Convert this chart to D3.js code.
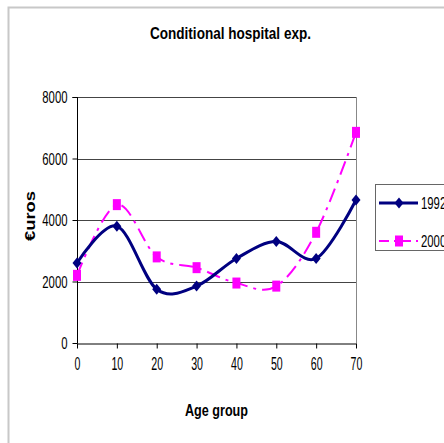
<!DOCTYPE html>
<html><head><meta charset="utf-8">
<script src="https://cdn.jsdelivr.net/npm/d3@7/dist/d3.min.js"></script>
<style>body{margin:0;background:#fff;}svg{display:block;}</style>
</head><body>
<svg id="c" width="444" height="443"></svg>
<script>
const ages = [0, 10, 20, 30, 40, 50, 60, 70];
const values1992 = [2600, 3800, 1750, 1850, 2750, 3300, 2750, 4650];
const values2000 = [2200, 4500, 2800, 2450, 1950, 1850, 3600, 6850];
const yTicks = [0, 2000, 4000, 6000, 8000];
const seriesNames = ["1992", "2000"];

const FONT = "'Liberation Sans', Arial, sans-serif";
const svg = d3.select("#c");
const L = 77, R = 356, T = 97, B = 343;
const x = d3.scaleLinear().domain([0, 70]).range([L, R]);
const y = d3.scaleLinear().domain([0, 8000]).range([B, T]);

// condensed text helper: width per character
function squeeze(sel, perChar) {
  sel.attr("lengthAdjust", "spacingAndGlyphs")
     .attr("textLength", function() { return this.textContent.length * perChar; });
}

// outer frame
svg.append("path").attr("d", `M8.5,445 V7.5 H450`).attr("fill", "none").attr("stroke", "#c8c8c8").attr("stroke-width", 2);

// title
svg.append("text").attr("x", 230.5).attr("y", 39).attr("text-anchor", "middle")
  .attr("font-family", FONT).attr("font-weight", "bold").attr("font-size", 17)
  .attr("textLength", 161).attr("lengthAdjust", "spacingAndGlyphs").text("Conditional hospital exp.");

// gridlines
svg.append("g").selectAll("line").data(yTicks.filter(d => d > 0)).join("line")
  .attr("x1", L).attr("x2", R).attr("y1", d => Math.round(y(d)) + 0.5).attr("y2", d => Math.round(y(d)) + 0.5)
  .attr("stroke", "#444").attr("stroke-width", 1);
// right border
svg.append("line").attr("x1", R + 0.5).attr("x2", R + 0.5).attr("y1", T).attr("y2", B).attr("stroke", "#888");

// y axis
const yAxis = d3.axisLeft(y).tickValues(yTicks).tickSize(5).tickPadding(5).tickFormat(d3.format("d"));
const gy = svg.append("g").attr("transform", `translate(${L + 0.5},0)`).call(yAxis);
gy.select(".domain").attr("stroke", "#000").attr("d", `M-5,${Math.round(y(8000))+0.5}H0V${Math.round(y(0))+0.5}`);
gy.selectAll("text").attr("font-family", FONT).attr("font-size", 16).attr("fill", "#000").attr("dy", "0.36em").call(squeeze, 6.3);

// x axis
const xAxis = d3.axisBottom(x).tickValues(ages).tickSize(5).tickPadding(8).tickSizeOuter(0);
const gx = svg.append("g").attr("transform", `translate(0,${B + 0.5})`).call(xAxis);
gx.select(".domain").attr("stroke", "#000");
gx.selectAll("text").attr("font-family", FONT).attr("font-size", 19).attr("fill", "#000").call(squeeze, 5.9);

// axis titles
svg.append("text").attr("x", 216.5).attr("y", 416).attr("text-anchor", "middle")
  .attr("font-family", FONT).attr("font-weight", "bold").attr("font-size", 16)
  .attr("textLength", 63).attr("lengthAdjust", "spacingAndGlyphs").text("Age group");
svg.append("text").attr("transform", "translate(35,216) rotate(-90)").attr("text-anchor", "middle")
  .attr("font-family", FONT).attr("font-weight", "bold").attr("font-size", 15)
  .attr("textLength", 50).attr("lengthAdjust", "spacingAndGlyphs").text("€uros");

const line = d3.line().x(d => x(d[0])).y(d => y(d[1])).curve(d3.curveCatmullRom.alpha(0));
const d1992 = ages.map((a, i) => [a, values1992[i]]);
const d2000 = ages.map((a, i) => [a, values2000[i]]);

const NAVY = "#000080", MAG = "#ff00ff", DASH = "14,6,3,6";

svg.append("path").datum(d2000).attr("d", line).attr("fill", "none").attr("stroke", MAG)
  .attr("stroke-width", 2).attr("stroke-dasharray", DASH);
svg.append("path").datum(d1992).attr("d", line).attr("fill", "none").attr("stroke", NAVY).attr("stroke-width", 3);

const diamond = "M0,-5.5L4.5,0L0,5.5L-4.5,0Z";
svg.append("g").selectAll("path").data(d1992).join("path")
  .attr("transform", d => `translate(${x(d[0])},${y(d[1])})`).attr("d", diamond).attr("fill", NAVY);
svg.append("g").selectAll("rect").data(d2000).join("rect")
  .attr("x", d => x(d[0]) - 4).attr("y", d => y(d[1]) - 5.5).attr("width", 8).attr("height", 11).attr("fill", MAG);

// legend
const lg = svg.append("g");
lg.append("rect").attr("x", 375.5).attr("y", 184.5).attr("width", 80).attr("height", 66)
  .attr("fill", "#fff").attr("stroke", "#666");
const ly = [203, 241];
lg.append("line").attr("x1", 379).attr("x2", 418).attr("y1", ly[0]).attr("y2", ly[0]).attr("stroke", NAVY).attr("stroke-width", 3);
lg.append("path").attr("d", diamond).attr("transform", `translate(399,${ly[0]})`).attr("fill", NAVY);
lg.append("line").attr("x1", 379).attr("x2", 418).attr("y1", ly[1]).attr("y2", ly[1]).attr("stroke", MAG).attr("stroke-width", 2).attr("stroke-dasharray", "10,5,2,5");
lg.append("rect").attr("x", 395).attr("y", ly[1] - 5.5).attr("width", 8).attr("height", 11).attr("fill", MAG);
lg.selectAll("text").data(seriesNames).join("text")
  .attr("x", 421).attr("y", (d, i) => ly[i] + 5.5).attr("font-family", FONT).attr("font-size", 16).text(d => d).call(squeeze, 6.3);
</script>
</body></html>
